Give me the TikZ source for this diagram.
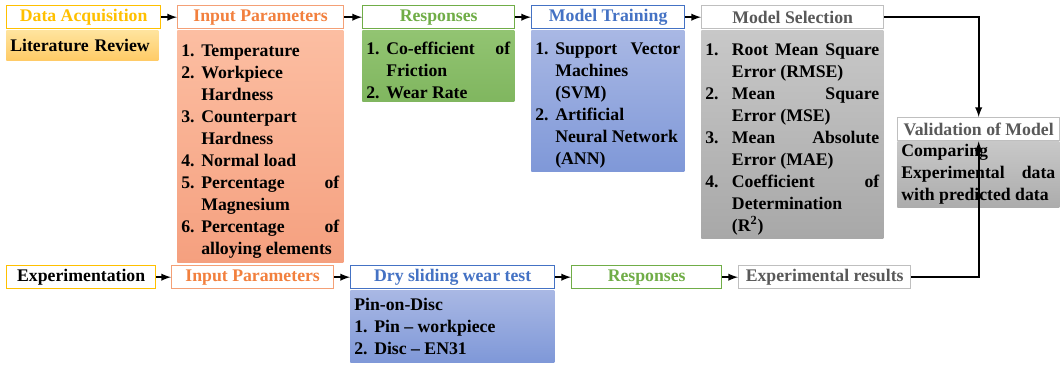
\documentclass[tikz,border=0pt]{standalone}
\usepackage{fontspec}
\setmainfont{Liberation Serif}[BoldFont={Liberation Serif Bold}]
\usepackage{tikz}
\definecolor{myyellow}{RGB}{255,192,0}
\definecolor{myorange}{RGB}{242,128,62}
\definecolor{myorangeline}{RGB}{244,160,118}
\definecolor{mygreen}{RGB}{112,173,71}
\definecolor{myblue}{RGB}{68,114,196}
\definecolor{mygray}{RGB}{89,89,89}
\definecolor{mygrayline}{RGB}{191,191,191}
\usetikzlibrary{arrows}
\newcommand{\listentry}[3][15pt]{\par\noindent\hangindent=#1\hangafter=1\makebox[#1][l]{#2}#3\par}

\begin{document}
\begin{tikzpicture}[x=0.75pt, y=-0.75pt, >=latex,   % 1 Einheit = 1 Pixel der Vorlage
					font=\fontsize{13.3}{16.5}\selectfont\bfseries,
					head/.style={draw=#1, fill=white, text=#1, line width=1pt, anchor=north west, minimum height=17.25pt, inner sep=0pt},
					body/.style={anchor=north west, align=justify, inner xsep=3pt, inner ysep=2pt, text=black},
					conn/.style={->, line width=1.5pt}]
	\useasboundingbox (0,0) rectangle (1062,365);
	% obere Reihe
	\node[head=myyellow, minimum width=115.5pt] (acq) at (6,5) {Data Acquisition};
	\node[body, top color={rgb,255:red,255;green,228;blue,158}, bottom color={rgb,255:red,255;green,203;blue,102}, text width=108pt, minimum height=22.5pt, align=left] (lit) at (6,30) {Literature Review};
	\node[head=myorange, draw=myorangeline, minimum width=124.5pt] (inp) at (177,5) {Input Parameters};
	\node[body, top color={rgb,255:red,252;green,190;blue,162}, bottom color={rgb,255:red,245;green,160;blue,127}, text width=118.5pt, minimum height=174pt] (inpl) at (177,30) {%
		\listentry{1.}{Temperature}
		\listentry{2.}{Workpiece\newline Hardness}
		\listentry{3.}{Counterpart\newline Hardness}
		\listentry{4.}{Normal load}
		\listentry{5.}{Percentage of\linebreak Magnesium}
		\listentry{6.}{Percentage of\linebreak alloying elements}};
	\node[head=mygreen, minimum width=114pt] (res) at (362,5) {Responses};
	\node[body, top color={rgb,255:red,146;green,196;blue,114}, bottom color={rgb,255:red,128;green,182;blue,95}, text width=108pt, minimum height=51pt] (resl) at (362,30) {%
		\listentry{1.}{Co-efficient of\linebreak Friction}
		\listentry{2.}{Wear Rate}};
	\node[head=myblue, minimum width=114.75pt] (trn) at (531,5) {Model Training};
	\node[body, top color={rgb,255:red,169;green,184;blue,228}, bottom color={rgb,255:red,127;green,152;blue,216}, text width=108.75pt, minimum height=102pt] (trnl) at (531,30) {%
		\listentry{1.}{Support Vector\linebreak Machines\newline (SVM)}
		\listentry{2.}{Artificial\newline Neural Network\newline (ANN)}};
	\node[head=mygray, draw=mygrayline, minimum width=136.5pt] (sel) at (701,5) {Model Selection};
	\node[body, top color={rgb,255:red,200;green,200;blue,200}, bottom color={rgb,255:red,168;green,168;blue,168}, text width=130.5pt, minimum height=156pt] (sell) at (701,30) {%
		\listentry[20pt]{1.}{Root Mean Square\linebreak Error (RMSE)}
		\listentry[20pt]{2.}{Mean Square\linebreak Error (MSE)}
		\listentry[20pt]{3.}{Mean Absolute\linebreak Error (MAE)}
		\listentry[20pt]{4.}{Coefficient of\linebreak Determination\newline (R\textsuperscript{2})}};
	\node[body, top color={rgb,255:red,200;green,200;blue,200}, bottom color={rgb,255:red,172;green,172;blue,172}, text width=115.5pt, minimum height=50pt, inner ysep=0pt] (vall) at (897,141) {%
		Comparing\newline Experimental data\linebreak with predicted data};
	\node[head=mygray, draw=mygrayline, minimum width=121.5pt] (val) at (897,117) {Validation of Model};
	% untere Reihe
	\node[head=myyellow, text=black, minimum width=111.75pt] (exp) at (6,265) {Experimentation};
	\node[head=myorange, draw=myorangeline, minimum width=121.5pt] (inpb) at (171,265) {Input Parameters};
	\node[head=myblue, minimum width=153pt] (dry) at (350,265) {Dry sliding wear test};
	\node[body, top color={rgb,255:red,169;green,184;blue,228}, bottom color={rgb,255:red,127;green,152;blue,216}, text width=147pt, minimum height=54pt] (dryl) at (350,290) {%
		\noindent Pin-on-Disc
		\listentry{1.}{Pin -- workpiece}
		\listentry{2.}{Disc -- EN31}};
	\node[head=mygreen, minimum width=112.5pt] (resb) at (571,265) {Responses};
	\node[head=mygray, draw=mygrayline, minimum width=129pt] (expres) at (738,265) {Experimental results};
	% Pfeile
	\draw[conn] (acq) -- (inp);
	\draw[conn] (inp) -- (res);
	\draw[conn] (res) -- (trn);
	\draw[conn] (trn) -- (sel);
	\draw[conn] (sel.east) -| (val.north);
	\draw[conn] (exp) -- (inpb);
	\draw[conn] (inpb) -- (dry);
	\draw[conn] (dry) -- (resb);
	\draw[conn] (resb) -- (expres);
	\draw[conn] (expres.east) -| (val.south);
\end{tikzpicture}
\end{document}
